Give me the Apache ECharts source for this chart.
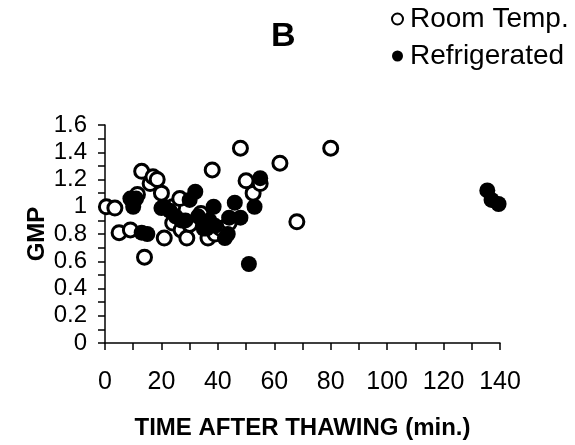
<!DOCTYPE html>
<html>
<head>
<meta charset="utf-8">
<script src="https://cdn.jsdelivr.net/npm/echarts@6/dist/echarts.min.js"></script>
<style>html,body{margin:0;padding:0;background:#fff}#c{width:575px;height:445px}</style>
</head>
<body>
<div id="c"></div>
<script>
// Room temperature samples: [time after thawing (min), GMP]
const roomTempTime = [0.5, 3.5, 5, 9, 11.5, 13, 14, 16, 17, 18.5, 20, 21, 24, 24, 26.5, 27, 29, 30, 34, 36.5, 38, 39, 41, 44, 48, 50, 52.5, 55, 62, 68, 80];
const roomTempGMP  = [1.00, 0.99, 0.81, 0.83, 1.09, 1.26, 0.63, 1.17, 1.22, 1.20, 1.10, 0.77, 0.88, 1.00, 1.06, 0.83, 0.77, 0.87, 0.95, 0.77, 1.27, 0.80, 0.84, 0.88, 1.43, 1.19, 1.10, 1.17, 1.32, 0.89, 1.43];
// Refrigerated samples
const refrigTime = [9, 10, 11, 13, 15, 20, 21, 23, 25, 27, 28.5, 30, 32, 33, 35, 36, 37, 38.5, 39, 42.5, 43.5, 44, 46, 48, 51, 53, 55, 135.5, 137, 139.5];
const refrigGMP  = [1.06, 1.00, 1.06, 0.81, 0.80, 0.99, 1.00, 0.97, 0.93, 0.90, 0.90, 1.05, 1.11, 0.93, 0.84, 0.84, 0.90, 1.00, 0.86, 0.77, 0.80, 0.92, 1.03, 0.92, 0.58, 1.00, 1.21, 1.12, 1.05, 1.02];
const xTickLabels = ['0','20','40','60','80','100','120','140'];
const seriesNames = ['Room Temp.', 'Refrigerated'];
const panelLabel = 'B';
const xTitle = 'TIME AFTER THAWING (min.)';
const yTitle = 'GMP';

const zip = (a, b) => a.map((v, i) => [v, b[i]]);
const FONT = '"Liberation Sans", Arial, sans-serif';

const chart = echarts.init(document.getElementById('c'));
chart.setOption({
  animation: false,
  backgroundColor: '#fff',
  title: {
    text: panelLabel, left: 266, top: 15,
    textStyle: { fontFamily: FONT, fontWeight: 'bold', fontSize: 34, color: '#000' }
  },
  legend: {
    orient: 'vertical', left: 386, top: 0, itemGap: 9,
    itemWidth: 11, itemHeight: 11,
    textStyle: { fontFamily: FONT, fontSize: 28, color: '#000', padding: [0, 0, 0, 2] },
    data: [
      { name: seriesNames[0], icon: 'circle', itemStyle: { color: '#fff', borderColor: '#000', borderWidth: 2 } },
      { name: seriesNames[1], icon: 'circle', itemStyle: { color: '#000', borderWidth: 0 } }
    ]
  },
  grid: { left: 105, right: 75, top: 125, bottom: 92, containLabel: false },
  xAxis: {
    type: 'value', min: 0, max: 140, interval: 20,
    name: xTitle, nameLocation: 'middle', nameGap: 73,
    nameTextStyle: { fontFamily: FONT, fontWeight: 'bold', fontSize: 24, color: '#000' },
    axisLine: { onZero: false, lineStyle: { color: '#000', width: 1.5 } },
    axisTick: { show: true, inside: false, length: 7, lineStyle: { color: '#000', width: 1.5 } },
    minorTick: { show: true, splitNumber: 2, length: 7, lineStyle: { color: '#000', width: 1.5 } },
    splitLine: { show: false },
    axisLabel: {
      margin: 27, fontFamily: FONT, fontSize: 25, color: '#000',
      formatter: (v) => { const i = Math.round(v / 20); return xTickLabels[i] !== undefined ? xTickLabels[i] : ''; }
    }
  },
  yAxis: {
    type: 'value', min: 0, max: 1.6, interval: 0.2,
    name: yTitle, nameLocation: 'middle', nameGap: 68, nameRotate: 90, nameMoveOverlap: false,
    nameTextStyle: { fontFamily: FONT, fontWeight: 'bold', fontSize: 24, color: '#000', verticalAlign: 'middle' },
    axisLine: { onZero: false, lineStyle: { color: '#000', width: 1.5 } },
    axisTick: { show: true, inside: false, length: 7, lineStyle: { color: '#000', width: 1.5 } },
    minorTick: { show: true, splitNumber: 2, length: 7, lineStyle: { color: '#000', width: 1.5 } },
    splitLine: { show: false },
    axisLabel: { margin: 18, fontFamily: FONT, fontSize: 24, color: '#000' }
  },
  series: [
    {
      name: seriesNames[0], type: 'scatter', symbol: 'circle', symbolSize: 14,
      itemStyle: { color: '#fff', borderColor: '#000', borderWidth: 3, opacity: 1 },
      data: zip(roomTempTime, roomTempGMP), z: 2
    },
    {
      name: seriesNames[1], type: 'scatter', symbol: 'circle', symbolSize: 16,
      itemStyle: { color: '#000', borderWidth: 0, opacity: 1 },
      data: zip(refrigTime, refrigGMP), z: 3
    }
  ]
});
</script>
</body>
</html>
